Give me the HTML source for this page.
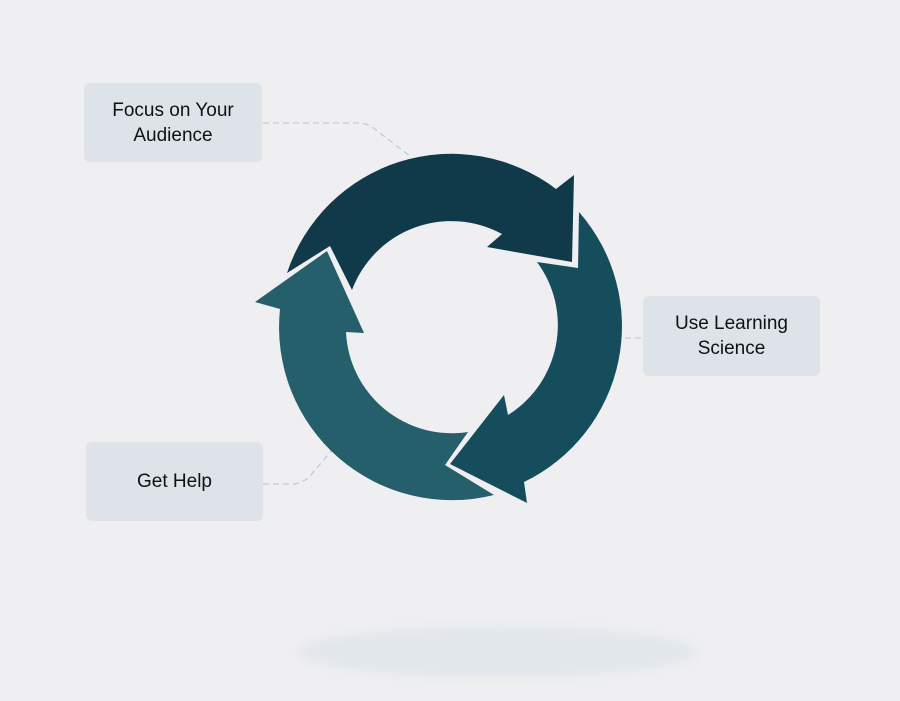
<!DOCTYPE html>
<html><head><meta charset="utf-8"><style>
html,body{margin:0;padding:0;}
body{width:900px;height:701px;background:#efeff1;position:relative;overflow:hidden;font-family:"Liberation Sans",sans-serif;}
.box{position:absolute;background:#dde3e9;border-radius:6px;display:flex;align-items:center;justify-content:center;text-align:center;font-size:19px;line-height:25px;color:#111;}
</style></head><body>
<svg width="900" height="701" style="position:absolute;left:0;top:0">
<defs><filter id="b" x="-20%" y="-100%" width="140%" height="300%"><feGaussianBlur stdDeviation="5"/></filter></defs>
<ellipse cx="498" cy="652" rx="200" ry="26" fill="#e2e7ec" filter="url(#b)"/>
<g fill="none" stroke="#c3ccd3" stroke-width="1.3" stroke-dasharray="6,4">
<path d="M263,123 L358,123 Q368,123 376,130 L410,156"/>
<path d="M625,338 L643,338"/>
<path d="M263,484 L292,484 Q302,484 310,476 L332,450"/>
</g>
<path d="M287,273 A173,173 0 0 1 556,189 L574,175 L572,262 L487,247 L502,234 A106,106 0 0 0 352,290 L330,246 Z" fill="#10394a"/>
<path d="M579,212 L578,268 L537,262 A106,106 0 0 1 508,415 L504,395 L450,464 L527,503 L524,482 A173,173 0 0 0 579,212 Z" fill="#154d5c"/>
<path d="M280,309 A173,173 0 0 0 494,495 L445,465 L468,432 A106,106 0 0 1 346,332 L364,333 L327,251 L255,302 Z" fill="#255f6b"/>
</svg>
<div class="box" style="left:84px;top:83px;width:178px;height:79px;">Focus on Your<br>Audience</div>
<div class="box" style="left:643px;top:296px;width:177px;height:80px;">Use Learning<br>Science</div>
<div class="box" style="left:86px;top:442px;width:177px;height:79px;">Get Help</div>
</body></html>
